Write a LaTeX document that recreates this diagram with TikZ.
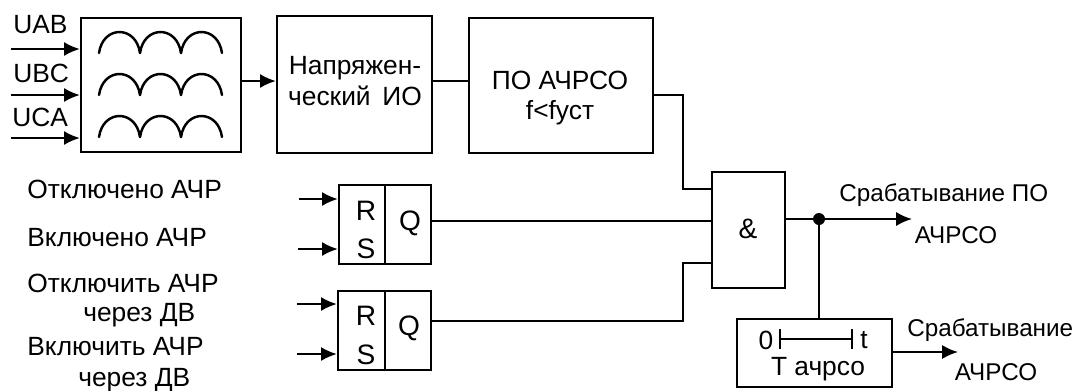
\documentclass[tikz,border=0pt]{standalone}
\usepackage{fontspec}
\setmainfont{Liberation Sans}
\usetikzlibrary{arrows.meta}
\tikzset{
	block/.style={draw, line width=1.3pt, inner sep=0pt, align=center},
	label/.style={inner sep=0pt, align=center, font=\fontsize{15}{17.1}\selectfont},
	outlabel/.style={label, font=\fontsize{13.8}{15}\selectfont},
	letter/.style={label, font=\fontsize{16}{17}\selectfont},
	wire/.style={line width=1.2pt},
	arrowline/.style={wire, -{Latex[length=9pt,width=8pt]}},
	coil/.style={line width=1.4pt, line cap=round}
}
\begin{document}
\begin{tikzpicture}[x=0.02cm, y=-0.02cm]
	\useasboundingbox (0,0) rectangle (1074,390);

	% top row
	\node[block, minimum width=3.2cm, minimum height=2.68cm] (inbox) at (161,85) {};
	\node[block, minimum width=3.1cm, minimum height=2.74cm] (iobox) at (354.5,84.5) {};
	\node[label] (iotext) at (355,81) {Напряжен-\\[1pt]ческий \,ИО};
	\node[block, minimum width=3.68cm, minimum height=2.7cm] (pobox) at (561,85.5) {};
	\node[label] (potext) at (560,98) {ПО АЧРСО\\f<fуст};
	\foreach \rowy in {53,95,137}
		\foreach \coilx in {99,140,181}
			\draw[coil] (\coilx,\rowy) .. controls (\coilx+4,\rowy-28) and (\coilx+37,\rowy-28) .. (\coilx+41,\rowy);

	% inputs
	\node[label, anchor=west] (uab) at (13,25) {UAB};
	\node[label, anchor=west] (ubc) at (13,73) {UBC};
	\node[label, anchor=west] (uca) at (12,117) {UCA};
	\coordinate (uabin) at (11,49);
	\coordinate (ubcin) at (11,95);
	\coordinate (ucain) at (11,138);
	\draw[arrowline] (uabin) -- (uabin -| inbox.west);
	\draw[arrowline] (ubcin) -- (ubcin -| inbox.west);
	\draw[arrowline] (ucain) -- (ucain -| inbox.west);
	\coordinate (toprow) at (250,81);
	\draw[arrowline] (toprow -| inbox.east) -- (toprow -| iobox.west);
	\draw[wire] (toprow -| iobox.east) -- (toprow -| pobox.west);

	% left texts
	\node[label, anchor=west] (offtext) at (27,189) {Отключено АЧР};
	\node[label, anchor=west] (ontext) at (27,238) {Включено АЧР};
	\node[label, anchor=west] (offdv) at (27,283) {Отключить АЧР};
	\node[label, anchor=west] (offdvb) at (83,315) {через ДВ};
	\node[label, anchor=west] (ondv) at (27,347) {Включить АЧР};
	\node[label, anchor=west] (ondvb) at (78,380) {через ДВ};

	% triggers
	\node[block, minimum width=0.92cm, minimum height=1.58cm] (rsa) at (362,224.5) {};
	\node[block, minimum width=0.92cm, minimum height=1.58cm] (qa) at (408,224.5) {};
	\node[block, minimum width=0.94cm, minimum height=1.58cm] (rsb) at (361.5,330.5) {};
	\node[block, minimum width=0.92cm, minimum height=1.58cm] (qb) at (408,330.5) {};
	\node[letter] (ra) at (366,211) {R};
	\node[letter] (sa) at (366,249) {S};
	\node[letter] (qatext) at (410,223) {Q};
	\node[letter] (rb) at (366,316) {R};
	\node[letter] (sb) at (366,355) {S};
	\node[letter] (qbtext) at (409,328) {Q};
	\coordinate (rain) at (299,199);
	\coordinate (sain) at (298,249);
	\coordinate (rbin) at (297,304);
	\coordinate (sbin) at (297,354);
	\draw[arrowline] (rain) -- (rain -| rsa.west);
	\draw[arrowline] (sain) -- (sain -| rsa.west);
	\draw[arrowline] (rbin) -- (rbin -| rsb.west);
	\draw[arrowline] (sbin) -- (sbin -| rsb.west);

	% logic
	\node[block, minimum width=1.46cm, minimum height=2.32cm] (andbox) at (748.5,230) {};
	\node[letter] (andtext) at (748,229) {\&};
	\coordinate (poout) at (683,95);
	\coordinate (poin) at (683,189);
	\coordinate (qaout) at (683,221);
	\coordinate (qbout) at (683,321);
	\coordinate (qbin) at (683,263);
	\draw[wire] (poout -| pobox.east) -- (poout) -- (poin) -- (poin -| andbox.west);
	\draw[wire] (qaout -| qa.east) -- (qaout -| andbox.west);
	\draw[wire] (qbout -| qb.east) -- (qbout) -- (qbin) -- (qbin -| andbox.west);

	% outputs
	\node[block, minimum width=3.1cm, minimum height=1.36cm] (tbox) at (814.5,353) {};
	\node[label] (tzero) at (766,340) {0};
	\node[label] (tend) at (864,340) {t};
	\node[label] (tname) at (818,369) {Т ачрсо};
	\coordinate (tleft) at (779,339);
	\coordinate (tright) at (853,339);
	\draw[wire, {Bar[width=20*0.569pt]}-{Bar[width=20*0.569pt]}] (tleft) -- (tright);
	\coordinate (anddot) at (819,219);
	\coordinate (andend) at (912,219);
	\fill (anddot) circle [radius=6];
	\draw[arrowline] (anddot -| andbox.east) -- (andend);
	\draw[wire] (anddot) -- (anddot |- tbox.north);
	\coordinate (tend2) at (958,352);
	\draw[arrowline] (tend2 -| tbox.east) -- (tend2);
	\node[outlabel, anchor=west] (outa) at (839,195) {Срабатывание ПО};
	\node[outlabel] (outb) at (956,235) {АЧРСО};
	\node[outlabel, anchor=west] (outc) at (907,330) {Срабатывание};
	\node[outlabel] (outd) at (996,372) {АЧРСО};
\end{tikzpicture}
\end{document}
